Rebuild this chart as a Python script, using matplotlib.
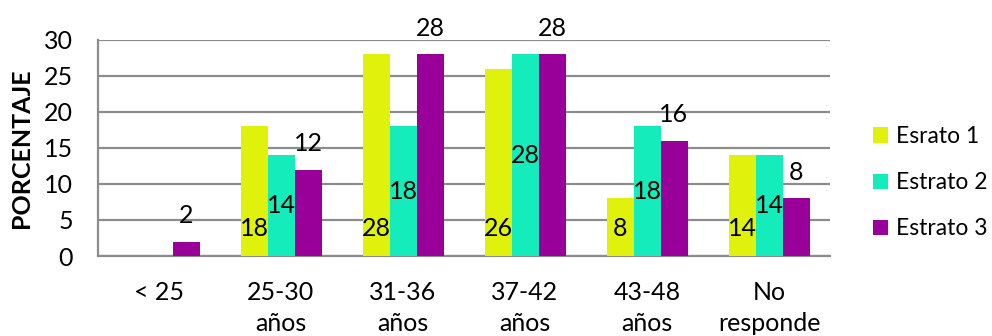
import matplotlib
matplotlib.use("Agg")
import matplotlib.pyplot as plt
import numpy as np

categories = ["< 25", "25-30\naños", "31-36\naños", "37-42\naños", "43-48\naños", "No\nresponde"]
series_names = ["Esrato 1", "Estrato 2", "Estrato 3"]
estrato1 = [0, 18, 28, 26, 8, 14]
estrato2 = [0, 14, 18, 28, 18, 14]
estrato3 = [2, 12, 28, 28, 16, 8]
colors = ["#E0F20C", "#14EDBB", "#990099"]
yticks = [0, 5, 10, 15, 20, 25, 30]

plt.rcParams["font.family"] = ["Lato", "DejaVu Sans"]
FS = 18
LEG_FS = 16.5

W, H = 992, 336
fig = plt.figure(figsize=(W / 100, H / 100), dpi=100)
ax = fig.add_axes([98 / W, 1 - 256 / H, (830 - 98) / W, (256 - 40) / H])

x = np.arange(len(categories))
bw = 27 / 122
values = [estrato1, estrato2, estrato3]
for i, (vals, col, name) in enumerate(zip(values, colors, series_names)):
    pos = x + (i - 1) * bw
    ax.bar(pos, vals, width=bw, color=col, label=name, zorder=3)
    for xp, v in zip(pos, vals):
        if v == 0:
            continue
        if i == 0:
            ax.annotate(f"{v}", (xp, 0), xytext=(0, 19.5), textcoords="offset points",
                        ha="center", va="center", fontsize=FS, zorder=4)
        elif i == 1:
            ax.text(xp, v / 2, f"{v}", ha="center", va="center", fontsize=FS, zorder=4)
        else:
            ax.annotate(f"{v}", (xp, v), xytext=(0, 19), textcoords="offset points",
                        ha="center", va="center", fontsize=FS, zorder=4)

ax.set_xlim(-0.5, len(categories) - 0.5)
ax.set_ylim(0, 30)
ax.set_yticks(yticks)
ax.set_yticklabels([str(t) for t in yticks], fontsize=FS)
ax.set_xticks(x)
ax.set_xticklabels(categories, fontsize=FS, linespacing=1.4)
ax.tick_params(axis="both", length=0)
ax.tick_params(axis="x", pad=18)
ax.tick_params(axis="y", pad=18)
ax.yaxis.grid(True, color="#8C8C8C", linewidth=1.6, zorder=0)
for side in ["top", "right"]:
    ax.spines[side].set_visible(False)
for side in ["left", "bottom"]:
    ax.spines[side].set_color("#8C8C8C")
    ax.spines[side].set_linewidth(1.6)

ax.set_ylabel("PORCENTAJE", fontsize=FS, fontweight="bold")
ax.yaxis.set_label_coords(-(98 - 22) / (830 - 98), 0.5)
ax.yaxis.label.set_va("center")

leg = ax.legend(loc="upper left", bbox_to_anchor=(873 / W, 1 - 126 / H),
                bbox_transform=fig.transFigure, frameon=False, fontsize=LEG_FS,
                borderpad=0, borderaxespad=0,
                handlelength=0.65, handleheight=0.65, handletextpad=0.35,
                labelspacing=1.1)

fig.savefig("out.png", dpi=100)
